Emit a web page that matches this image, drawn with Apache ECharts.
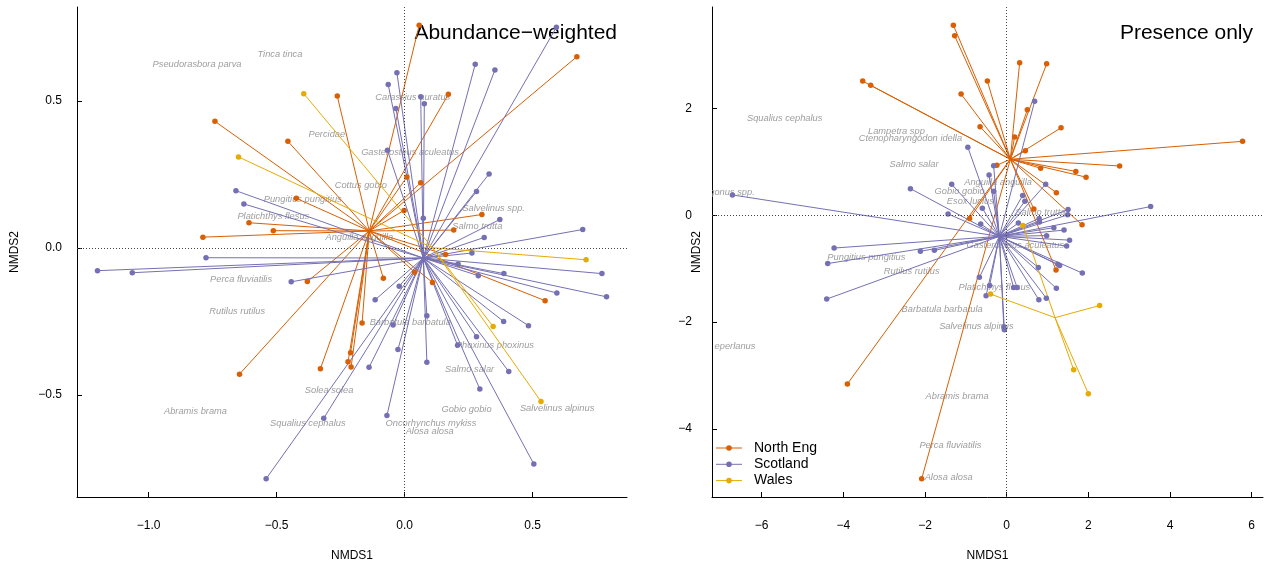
<!DOCTYPE html>
<html><head><meta charset="utf-8">
<script src="https://cdn.jsdelivr.net/npm/echarts@6/dist/echarts.min.js"></script>
<style>html,body{margin:0;padding:0;background:#fff}#c{width:1266px;height:569px}</style>
</head><body><div id="c"></div>
<script>
// ---------- data ----------
const groups = ['North Eng', 'Scotland', 'Wales'];
const groupColors = ['#D95F02', '#7570B3', '#E6AB02'];

// Abundance-weighted NMDS (site scores)
const abNorthEng = [[-0.263,0.517],[-0.741,0.431],[-0.456,0.363],[-0.423,0.169],[-0.608,0.086],[-0.513,0.059],[-0.788,0.037],[0.057,0.758],[0.673,0.651],[0.171,0.523],[0.063,0.222],[0.009,0.242],[-0.002,0.128],[0.302,0.114],[0.192,0.061],[-0.083,-0.103],[-0.380,-0.114],[0.109,-0.117],[-0.166,-0.255],[0.160,-0.022],[0.039,-0.082],[0.549,-0.179],[-0.211,-0.356],[-0.221,-0.387],[-0.209,-0.405],[-0.645,-0.429],[-0.329,-0.411]];
const abNorthEngCentroid = [-0.138, 0.058];
const abScotland = [[-0.659,0.195],[-0.628,0.150],[-1.200,-0.077],[-1.064,-0.084],[-0.776,-0.033],[-0.443,-0.115],[-0.541,-0.785],[-0.316,-0.579],[0.593,0.751],[0.276,0.625],[0.353,0.606],[-0.030,0.596],[-0.064,0.556],[0.063,0.515],[0.077,0.491],[-0.034,0.475],[-0.067,0.333],[0.330,0.252],[0.281,0.192],[0.073,0.101],[0.372,0.097],[0.311,0.036],[0.696,0.063],[0.263,-0.017],[0.209,-0.054],[0.288,-0.094],[0.388,-0.087],[-0.021,-0.130],[-0.115,-0.176],[0.087,-0.230],[0.387,-0.250],[-0.045,-0.262],[0.771,-0.087],[0.595,-0.153],[0.789,-0.166],[0.484,-0.264],[0.281,-0.302],[0.207,-0.331],[-0.026,-0.345],[0.087,-0.389],[-0.139,-0.406],[0.407,-0.420],[0.294,-0.480],[-0.069,-0.570],[0.505,-0.735]];
const abScotlandCentroid = [0.073, -0.034];
const abWales = [[-0.394,0.525],[-0.649,0.310],[0.709,-0.040],[0.346,-0.267],[0.533,-0.522]];
const abWalesCentroid = [0.109, 0.001];

const abSpecies = ['Pseudorasbora parva','Tinca tinca','Percidae','Carassius auratus','Gasterosteus aculeatus','Cottus gobio','Pungitius pungitius','Platichthys flesus','Anguilla anguilla','Salvelinus spp.','Salmo trutta','Perca fluviatilis','Rutilus rutilus','Barbatula barbatula','Phoxinus phoxinus','Salmo salar','Solea solea','Abramis brama','Squalius cephalus','Gobio gobio','Salvelinus alpinus','Oncorhynchus mykiss','Alosa alosa'];
const abSpeciesScores = [[-0.811,0.623],[-0.487,0.657],[-0.304,0.388],[0.032,0.513],[0.021,0.326],[-0.171,0.212],[-0.398,0.164],[-0.513,0.107],[-0.177,0.037],[0.348,0.136],[0.284,0.075],[-0.639,-0.108],[-0.654,-0.215],[0.022,-0.253],[0.353,-0.332],[0.254,-0.414],[-0.295,-0.483],[-0.817,-0.555],[-0.378,-0.597],[0.242,-0.548],[0.596,-0.544],[0.103,-0.598],[0.098,-0.625]];

// Presence-only NMDS (site scores)
const prNorthEng = [[-1.305,3.557],[-1.273,3.357],[-3.525,2.510],[-3.329,2.430],[-0.472,2.510],[-1.116,2.267],[-0.651,1.656],[-0.906,-0.064],[0.318,2.852],[0.979,2.834],[0.507,1.974],[1.332,1.637],[0.196,1.464],[0.458,1.207],[5.777,1.383],[2.766,0.921],[-0.240,0.935],[0.832,0.879],[1.694,0.819],[1.944,0.712],[1.217,0.422],[0.666,0.118],[1.846,-0.181],[1.209,-1.028],[-3.900,-3.159],[-2.081,-4.935]];
const prNorthEngCentroid = [0.091, 1.047];
const prScotland = [[-6.715,0.379],[-0.950,1.271],[-2.357,0.497],[-1.346,0.579],[-0.431,0.753],[-0.595,0.131],[-1.435,0.024],[-0.636,-0.166],[-4.225,-0.615],[0.685,2.131],[-0.318,0.925],[-0.318,0.450],[0.955,0.579],[0.392,0.370],[0.446,0.262],[3.525,0.161],[1.503,0.105],[1.493,0.006],[0.796,-0.060],[0.805,-0.129],[0.286,-0.148],[1.155,-0.234],[1.405,-0.279],[0.979,-0.383],[1.540,-0.467],[1.469,-0.578],[-2.113,-0.677],[-1.770,-0.658],[-4.382,-0.905],[-4.406,-1.570],[-0.668,-1.163],[-0.416,-1.316],[-0.504,-1.508],[0.776,-0.979],[1.253,-0.920],[1.297,-0.942],[1.853,-1.084],[1.217,-1.368],[0.788,-1.583],[0.972,-1.555],[-0.069,-2.093],[-0.056,-2.144],[0.171,-1.353],[0.255,-1.353]];
const prScotlandCentroid = [-0.179, -0.396];
const prWales = [[-0.392,-1.477],[2.277,-1.690],[1.640,-2.892],[2.000,-3.340],[0.397,-0.191]];
const prWalesCentroid = [1.185, -1.918];

const prSpecies = ['Squalius cephalus','Lampetra spp','Ctenopharyngodon idella','Salmo salar','Coregonus spp.','Anguilla anguilla','Gobio gobio','Esox lucius','Salmo trutta','Gasterosteus aculeatus','Pungitius pungitius','Rutilus rutilus','Platichthys flesus','Barbatula barbatula','Salvelinus alpinus','Osmerus eperlanus','Abramis brama','Perca fluviatilis','Alosa alosa'];
const prSpeciesScores = [[-5.435,1.806],[-2.700,1.563],[-2.357,1.432],[-2.267,0.946],[-6.972,0.417],[-0.211,0.617],[-1.151,0.449],[-0.889,0.267],[0.825,0.049],[0.213,-0.568],[-3.435,-0.793],[-2.326,-1.060],[-0.301,-1.353],[-1.581,-1.770],[-0.742,-2.082],[-7.146,-2.462],[-1.214,-3.391],[-1.378,-4.307],[-1.420,-4.905]];

// axes
const abXRange = [-1.280, 0.869], abYRange = [-0.847, 0.820];
const prXRange = [-7.215, 6.277], prYRange = [-5.275, 3.897];
const abXTicks = [-1.0, -0.5, 0.0, 0.5], abYTicks = [-0.5, 0.0, 0.5];
const prXTicks = [-6, -4, -2, 0, 2, 4, 6], prYTicks = [-4, -2, 0, 2];
const panelTitles = ['Abundance\u2212weighted', 'Presence only'];

// ---------- chart ----------
const FONT = '"Liberation Sans", Arial, Helvetica, sans-serif';
const chart = echarts.init(document.getElementById('c'), null, {renderer: 'canvas'});

function fmt(dec) {
  return v => (dec ? Number(v).toFixed(dec) : String(Math.round(v))).replace('-', '\u2212');
}
function makeAxis(gi, range, ticks, dec, name, nameGap, labelMargin) {
  return {
    type: 'value', gridIndex: gi, min: range[0], max: range[1],
    name: name, nameLocation: 'middle', nameGap: nameGap, nameMoveOverlap: false,
    nameTextStyle: {fontFamily: FONT, fontSize: 12, color: '#000'},
    axisLine: {show: true, onZero: false, lineStyle: {color: '#000', width: 1}},
    axisTick: {show: true, inside: true, length: 5, customValues: ticks, lineStyle: {color: '#000'}},
    axisLabel: {show: true, customValues: ticks, formatter: fmt(dec), fontFamily: FONT, fontSize: 12,
                color: '#000', margin: labelMargin, hideOverlap: false},
    splitLine: {show: false}
  };
}

function spider(name, pts, cen, color, ai) {
  return {
    type: 'custom', name: name, xAxisIndex: ai, yAxisIndex: ai, clip: true, silent: true,
    data: pts,
    renderItem: function (params, api) {
      const p = api.coord([api.value(0), api.value(1)]);
      const c = api.coord(cen);
      return {type: 'line', shape: {x1: c[0], y1: c[1], x2: p[0], y2: p[1]},
              style: {stroke: color, lineWidth: 1}};
    }
  };
}
function pointsSeries(name, pts, color, ai) {
  return {type: 'scatter', name: name, xAxisIndex: ai, yAxisIndex: ai, data: pts,
          symbol: 'circle', symbolSize: 5.5, itemStyle: {color: color, opacity: 1}, silent: true};
}
function labels(names, pos, ai) {
  return {
    type: 'custom', xAxisIndex: ai, yAxisIndex: ai, clip: true, silent: true, data: pos, z: 1,
    renderItem: function (params, api) {
      const p = api.coord([api.value(0), api.value(1)]);
      return {type: 'text', x: p[0], y: p[1], style: {text: names[params.dataIndex], fill: '#9e9e9e',
        font: 'italic 9.3px ' + FONT, align: 'center', verticalAlign: 'middle'}};
    }
  };
}
function zeroLines(ai) {
  return {type: 'scatter', xAxisIndex: ai, yAxisIndex: ai, data: [], silent: true,
    markLine: {silent: true, symbol: 'none', label: {show: false}, animation: false,
      lineStyle: {color: '#444', width: 1, type: [1, 2]},
      data: [{xAxis: 0}, {yAxis: 0}]}};
}

const panels = [
  {pts: [abNorthEng, abScotland, abWales], cen: [abNorthEngCentroid, abScotlandCentroid, abWalesCentroid], sp: abSpecies, spXY: abSpeciesScores},
  {pts: [prNorthEng, prScotland, prWales], cen: [prNorthEngCentroid, prScotlandCentroid, prWalesCentroid], sp: prSpecies, spXY: prSpeciesScores}
];
const series = [];
panels.forEach((pn, ai) => {
  series.push(zeroLines(ai));
  series.push(labels(pn.sp, pn.spXY, ai));
  for (let g = 0; g < 3; g++) {
    series.push(spider(groups[g], pn.pts[g], pn.cen[g], groupColors[g], ai));
    series.push(pointsSeries(groups[g], pn.pts[g], groupColors[g], ai));
  }
});

// legend (drawn as graphic, bottom-left of the presence panel) and panel titles
const legendEls = [];
groups.forEach((g, i) => {
  const y = 448 + i * 16.3;
  legendEls.push({type: 'line', shape: {x1: 716, y1: y, x2: 742, y2: y}, style: {stroke: groupColors[i], lineWidth: 1}});
  legendEls.push({type: 'circle', shape: {cx: 729, cy: y, r: 2.8}, style: {fill: groupColors[i]}});
  legendEls.push({type: 'text', x: 754, y: y, style: {text: g, fill: '#000', font: '14px ' + FONT, verticalAlign: 'middle'}});
});
legendEls.push({type: 'text', x: 617, y: 33, style: {text: panelTitles[0], fill: '#000', font: '21px ' + FONT, align: 'right', verticalAlign: 'middle'}});
legendEls.push({type: 'text', x: 1253, y: 33, style: {text: panelTitles[1], fill: '#000', font: '21px ' + FONT, align: 'right', verticalAlign: 'middle'}});

chart.setOption({
  animation: false,
  backgroundColor: '#fff',
  grid: [
    {left: 77, top: 7, width: 550, height: 490},
    {left: 712, top: 7, width: 551, height: 490}
  ],
  xAxis: [
    makeAxis(0, abXRange, abXTicks, 1, 'NMDS1', 53, 23),
    makeAxis(1, prXRange, prXTicks, 0, 'NMDS1', 53, 23)
  ],
  yAxis: [
    makeAxis(0, abYRange, abYTicks, 1, 'NMDS2', 56, 15),
    makeAxis(1, prYRange, prYTicks, 0, 'NMDS2', 9, 20)
  ],
  graphic: legendEls,
  series: series
});
</script></body></html>
